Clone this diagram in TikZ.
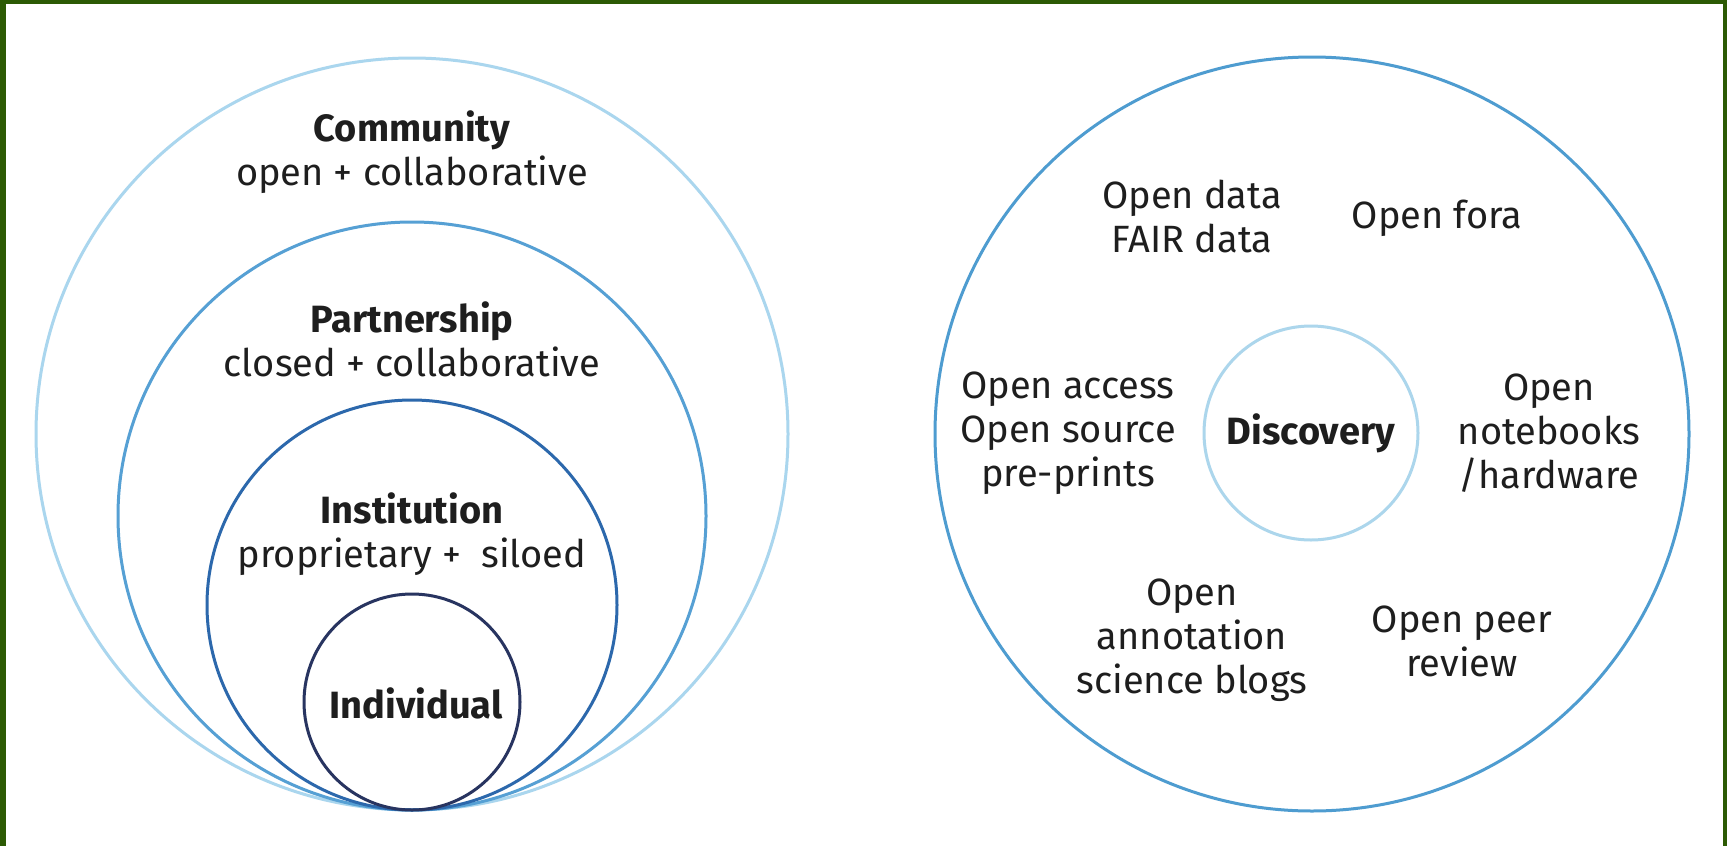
\documentclass[tikz,border=0pt]{standalone}
\usepackage{fontspec}
\setmainfont{Fira Sans}
\usetikzlibrary{positioning}

\definecolor{framegreen}{RGB}{44,90,4}
\definecolor{commblue}{RGB}{170,214,238}
\definecolor{partblue}{RGB}{86,160,212}
\definecolor{instblue}{RGB}{44,104,172}
\definecolor{indivnavy}{RGB}{40,52,96}
\definecolor{openblue}{RGB}{78,156,208}
\definecolor{discblue}{RGB}{172,214,236}
\definecolor{textgray}{RGB}{30,30,30}

\begin{document}
\begin{tikzpicture}[
    x=1pt, y=-1pt,
    ring/.style={draw, circle, line width=3pt, inner sep=0pt},
    txt/.style={font=\fontsize{38}{44}\selectfont, text=textgray, align=center}
]

\useasboundingbox (0,0) rectangle (1727,846);
\fill[framegreen] (0,0) rectangle (1727,846);
\fill[white] (6,4) rectangle (1723,846);

% nested circles, all touching at the bottom
\node[ring, draw=commblue, minimum size=752pt] (community) at (412,434) {};
\node[ring, draw=partblue, minimum size=588pt] (partnership) at (412,516) {};
\node[ring, draw=instblue, minimum size=410pt] (institution) at (412,605) {};
\node[ring, draw=indivnavy, minimum size=216pt] (individual) at (412,702) {};

\node[txt] (commtxt) at (412,152) {\textbf{Community}\\open + collaborative};
\node[txt] (parttxt) at (412,339) {\textbf{Partnership}\\closed + collaborative};
\node[txt] (insttxt) at (412,534) {\textbf{Institution}\\proprietary + \ siloed};
\node[txt] (indivtxt) at (416,703) {\textbf{Individual}};

% open science ring
\node[ring, draw=openblue, minimum size=754pt] (openring) at (1312,434) {};
\node[ring, txt, draw=discblue, minimum size=214pt] (discovery) at (1311,433) {\textbf{Discovery}};

\node[txt] (fairdata) at (1192,216) {Open data\\FAIR data};
\node[txt] (fora) at (1437,218) {Open fora};
\node[txt] (access) at (1068,433) {Open access\\Open source\\pre-prints};
\node[txt] (notebooks) at (1549,433) {Open\\notebooks\\/hardware};
\node[txt] (annotation) at (1192,640) {Open\\annotation\\science blogs};
\node[txt] (peer) at (1462,641) {Open peer\\review};

\end{tikzpicture}
\end{document}
